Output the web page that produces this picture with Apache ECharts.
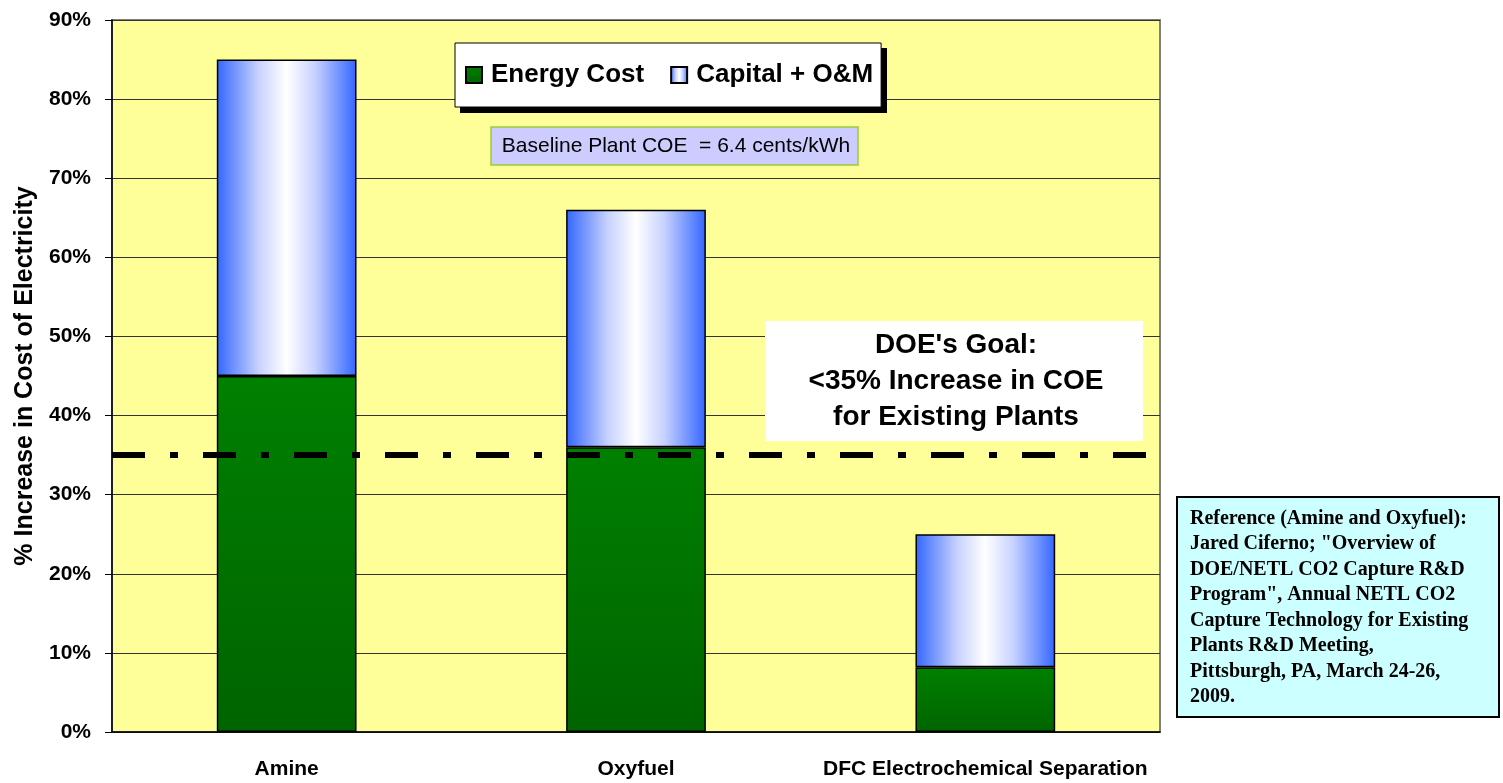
<!DOCTYPE html>
<html>
<head>
<meta charset="utf-8">
<script src="https://cdn.jsdelivr.net/npm/echarts@6/dist/echarts.min.js"></script>
<style>
  html, body { margin: 0; padding: 0; background: #fff; }
  #main { width: 1503px; height: 783px; }
</style>
</head>
<body>
<div id="main"></div>
<script>
// 数据
var categories = ['Amine', 'Oxyfuel', 'DFC Electrochemical Separation'];
var energyCost = [45, 36, 8.2];
var capitalOM = [40, 30, 16.8];
var goalLine = 35;
var seriesNames = ['Energy Cost', 'Capital + O&M'];

(function () {
    var myChart = echarts.init(document.getElementById('main'));

    var greenFill = new echarts.graphic.LinearGradient(0, 0, 0, 1, [
        { offset: 0, color: '#008000' },
        { offset: 1, color: '#006400' }
    ]);
    var blueFill = new echarts.graphic.LinearGradient(0, 0, 1, 0, [
        { offset: 0, color: '#3366ff' },
        { offset: 0.3, color: '#c8d2ff' },
        { offset: 0.5, color: '#ffffff' },
        { offset: 0.7, color: '#c8d2ff' },
        { offset: 1, color: '#3366ff' }
    ]);

    var option = {
        backgroundColor: '#ffffff',
        animation: false,
        grid: {
            left: 112, top: 20, right: 343, bottom: 51,
            show: true,
            backgroundColor: '#ffff99',
            borderColor: '#808080',
            borderWidth: 2
        },
        legend: {
            data: seriesNames,
            left: 455, top: 43,
            padding: [19, 8, 19, 10],
            itemGap: 26,
            itemWidth: 16, itemHeight: 16,
            icon: 'rect',
            backgroundColor: '#ffffff',
            borderColor: '#000000',
            borderWidth: 1,
            textStyle: { fontFamily: 'Arial, Liberation Sans', fontWeight: 'bold', fontSize: 26, color: '#000', padding: [0, 0, 0, 4] }
        },
        xAxis: {
            type: 'category',
            data: categories,
            axisLine: { lineStyle: { color: '#000', width: 1.5 } },
            axisTick: { length: 7, lineStyle: { color: '#555' } },
            axisLabel: { interval: 0, margin: 27, fontFamily: 'Arial, Liberation Sans', fontWeight: 'bold', fontSize: 21, color: '#000' },
            splitLine: { show: false }
        },
        yAxis: {
            type: 'value',
            min: 0, max: 90, interval: 10,
            name: '% Increase in Cost of Electricity',
            nameLocation: 'middle',
            nameGap: 72,
            nameTextStyle: { fontFamily: 'Arial, Liberation Sans', fontWeight: 'bold', fontSize: 25, color: '#000' },
            axisLine: { show: true, lineStyle: { color: '#000', width: 1.5 } },
            axisTick: { show: true, length: 7, lineStyle: { color: '#000' } },
            axisLabel: { margin: 21, formatter: '{value}%', fontFamily: 'Arial, Liberation Sans', fontWeight: 'bold', fontSize: 21, color: '#000' },
            splitLine: { lineStyle: { color: '#333', width: 1.2 } }
        },
        series: [
            {
                name: seriesNames[0],
                type: 'bar',
                stack: 'coe',
                barWidth: '40%',
                data: energyCost,
                itemStyle: { color: greenFill, borderColor: '#000', borderWidth: 1.5 },
                markLine: {
                    silent: true,
                    symbol: 'none',
                    label: { show: false },
                    lineStyle: { color: '#000', width: 6, type: [33, 25, 8, 25] },
                    data: [{ yAxis: goalLine }],
                    z: 5
                }
            },
            {
                name: seriesNames[1],
                type: 'bar',
                stack: 'coe',
                barWidth: '40%',
                data: capitalOM,
                itemStyle: { color: blueFill, borderColor: '#000', borderWidth: 1.5 }
            }
        ],
        graphic: [
            {
                // legend shadow
                type: 'rect',
                shape: { x: 460, y: 48, width: 427, height: 65 },
                style: { fill: '#000' },
                z: 3
            },
            {
                type: 'rect',
                shape: { x: 491, y: 127, width: 367, height: 38 },
                style: { fill: '#ccccff', stroke: '#99cc33', lineWidth: 1.5 },
                z: 100
            },
            {
                type: 'text',
                x: 676, y: 146,
                style: {
                    text: 'Baseline Plant COE  = 6.4 cents/kWh',
                    font: '21px Arial, Liberation Sans',
                    fill: '#000',
                    align: 'center', verticalAlign: 'middle'
                },
                z: 101
            },
            {
                type: 'rect',
                shape: { x: 765, y: 321, width: 378, height: 120 },
                style: { fill: '#ffffff' },
                z: 100
            },
            {
                type: 'text',
                x: 956, y: 381,
                style: {
                    text: "DOE's Goal:\n<35% Increase in COE\nfor Existing Plants",
                    font: 'bold 28px Arial, Liberation Sans',
                    lineHeight: 36,
                    fill: '#000',
                    align: 'center', verticalAlign: 'middle'
                },
                z: 101
            },
            {
                type: 'rect',
                shape: { x: 1177, y: 497, width: 322, height: 220 },
                style: { fill: '#ccffff', stroke: '#000', lineWidth: 2 },
                z: 100
            },
            {
                type: 'text',
                x: 1190, y: 506,
                style: {
                    text: 'Reference (Amine and Oxyfuel):\nJared Ciferno; "Overview of\nDOE/NETL CO2 Capture R&D\nProgram", Annual NETL CO2\nCapture Technology for Existing\nPlants R&D Meeting,\nPittsburgh, PA, March 24-26,\n2009.',
                    font: 'bold 20px "Times New Roman", "Liberation Serif"',
                    lineHeight: 25.5,
                    fill: '#000',
                    align: 'left', verticalAlign: 'top'
                },
                z: 101
            }
        ]
    };

    myChart.setOption(option);

    window.addEventListener('resize', function () {
        myChart.resize();
    });
})();
</script>
</body>
</html>
